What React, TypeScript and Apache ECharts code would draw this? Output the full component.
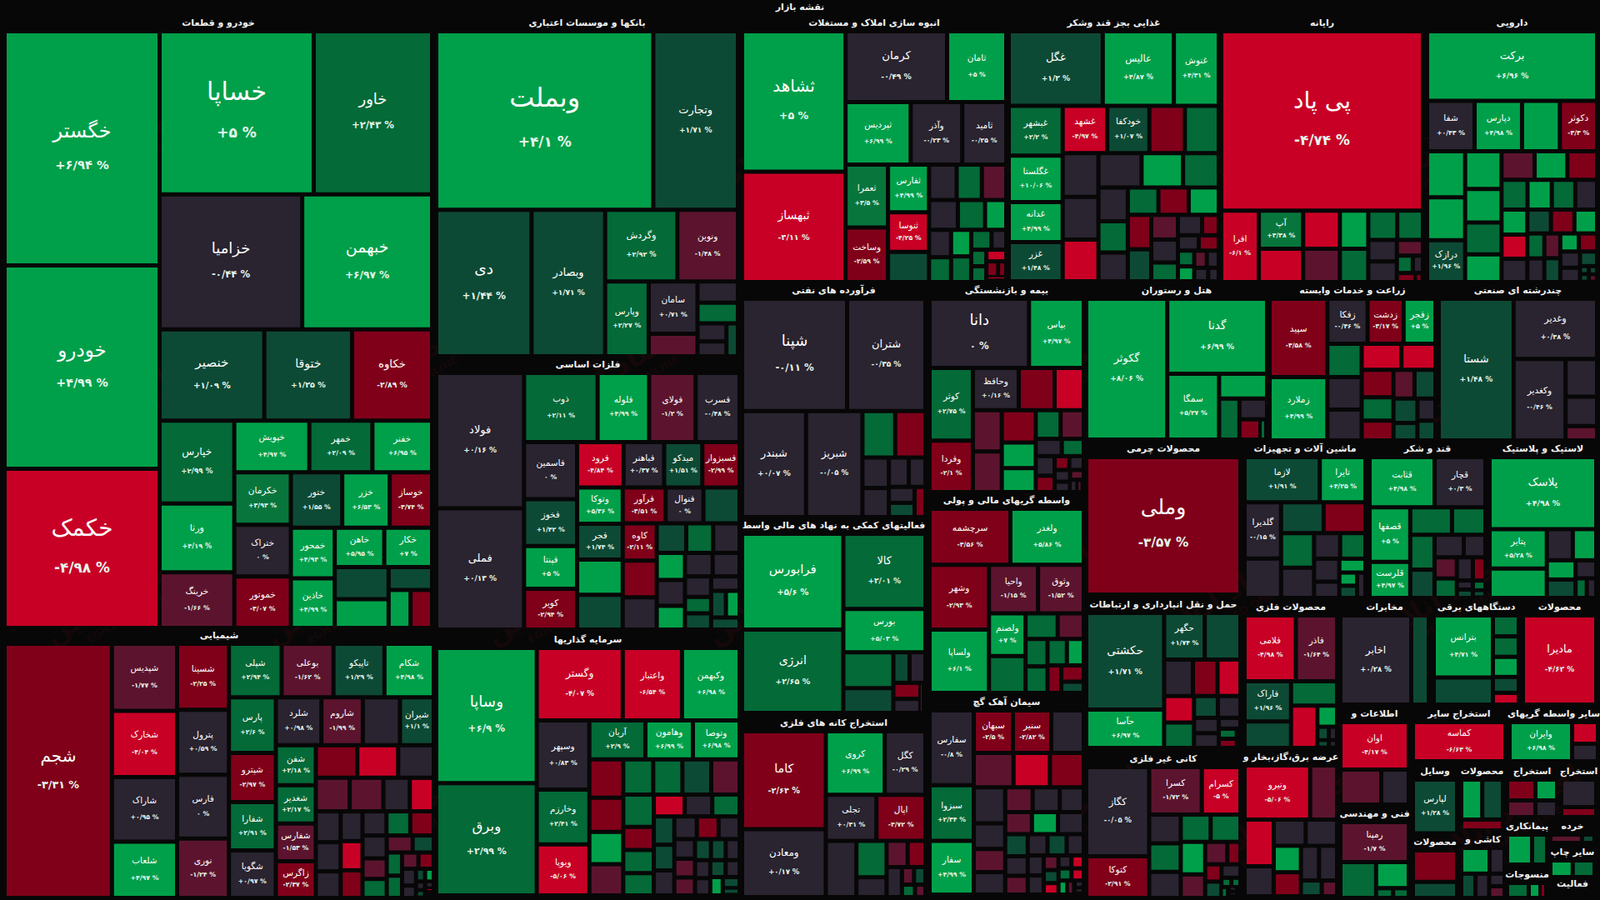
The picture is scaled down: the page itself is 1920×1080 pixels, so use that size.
import React, { useEffect, useRef } from "react";
import * as echarts from "echarts";

type Tile = [string, number, number];

const mapTitle = "نقشه بازار";

const auto: Tile[] = [["خگستر",52266,6.94],["خودرو",45384,4.99],["خکمک",35526,-4.98],["خساپا",35295,5],["خاور",27105,2.43],["خزامیا",27048,-0.44],["خبهمن",24633,6.97],["خنصیر",13407,1.09],["ختوقا",11227,1.25],["خکاوه",10246,-2.89],["خپارس",8700,2.99],["ورنا",7221,4.19],["خرینگ",5829,-1.66],["خپویش",5456,4.97],["خمهر",4588,2.09],["خفنر",4340,6.95],["خکرمان",4160,3.93],["ختراک",4120,0],["خموتور",4080,-3.07],["ختور",4000,1.55],["خزر",3696,6.53],["خوساز",3300,-3.74],["خمحور",3120,4.93],["خاذین",3050,4.99],["خاهن",2726,5.95],["خکار",2632,7],["",2432,1.5],["",2176,4],["",1400,1.5],["",1170,4],["",1150,-3]];
const chem: Tile[] = [["شجم",38430,-3.31],["شپدیس",6160,-1.77],["شخارک",6083,-4.04],["شاراک",5929,0.95],["شلعاب",5159,4.97],["شسینا",4819,-2.25],["پترول",4750,0.59],["فارس",4650,0],["نوری",4331,-1.24],["شپلی",3968,2.94],["بوعلی",3904,-1.62],["تاپیکو",3840,1.29],["شکام",3712,4.98],["پارس",3685,2.6],["شپترو",3245,-2.97],["شفارا",3190,2.91],["شگویا",3135,0.97],["شلرد",3078,0.98],["شاروم",2793,-1.99],["",2508,0],["شیران",2280,1.1],["شفن",2256,2.18],["شغدیر",2162,2.17],["شفارس",2115,-1.53],["زاگرس",2068,-2.37],["",1911,-3],["",1880,-5],["",1638,0],["",1600,-1.5],["",1590,-1.5],["",1248,0],["",1131,-5],["",1080,0],["",1020,0],["",930,0],["",918,0],["",900,-5],["",850,-3],["",816,0],["",810,2.5],["",800,-3],["",780,0],["",702,-1.5],["",648,2.5],["",621,-1.5],["",504,1.5],["",500,2.5],["",480,2.5],["",375,-1.5],["",350,-3],["",330,0],["",242,0],["",165,1.5],["",156,4],["",110,0],["",100,1.5],["",90,0],["",60,-5],["",50,2.5]];
const banks: Tile[] = [["وبملت",55426,4.1],["وتجارت",21614,1.71],["دی",19950,1.44],["وبصادر",15400,1.71],["وگردش",7396,2.92],["ونوین",6192,-1.48],["وپارس",4664,2.27],["سامان",3654,0.71],["",1566,-1.5],["",1225,0],["",1200,2.5],["",748,0],["",612,0],["",540,1.5]];
const metals: Tile[] = [["فولاد",13860,0.16],["فملی",12390,0.13],["ذوب",5916,2.11],["فلوله",4148,4.99],["فولای",3740,-1.2],["فسرب",3536,-0.48],["فاسمین",3528,0],["فخوز",2898,1.42],["فپنتا",2646,5],["کویر",2520,-2.94],["فرود",2464,-4.84],["فباهنر",2156,0.37],["میدکو",2024,1.51],["فسبزوار",1980,-2.99],["وتوکا",1925,5.36],["فجر",1900,1.74],["",1870,4],["",1850,1.5],["فرآور",1785,-3.51],["فنوال",1575,0],["",1505,1.5],["کاوه",1480,-2.11],["",1450,-3],["",1280,0],["",1015,1.5],["",928,2.5],["",910,0],["",890,4],["",850,0],["",782,4],["",759,0],["",736,0],["",625,0],["",500,2.5],["",495,1.5],["",480,0],["",460,1.5],["",425,4],["",400,1.5]];
const invest: Tile[] = [["وساپا",19320,6.9],["وبرق",16020,2.99],["وگستر",8858,-4.07],["واعتبار",6106,-6.54],["وکبهمن",5934,6.98],["وسپهر",5166,0.83],["وخارزم",4095,2.41],["ویوپا",3811,-5.06],["آریان",3102,2.9],["وهامون",2632,6.99],["وتوصا",2585,6.98],["",1845,-3],["",1640,-3],["",1558,4],["",1500,-1.5],["",1494,2.5],["",1452,2.5],["",1440,1.5],["",1411,-1.5],["",1404,2.5],["",1008,-3],["",1000,2.5],["",970,2.5],["",962,-5],["",858,0],["",850,2.5],["",825,1.5],["",750,1.5],["",729,0],["",725,0],["",702,-3],["",675,0],["",576,0],["",552,-1.5],["",528,-1.5],["",476,1.5],["",442,1.5],["",414,0],["",391,0],["",375,0],["",368,1.5],["",336,0],["",325,4],["",264,1.5],["",175,1.5]];
const build: Tile[] = [["ثشاهد",20664,5],["ثبهساز",16236,-4.11],["کرمان",10248,-0.49],["ثامان",5964,5],["ثپردیس",5775,6.99],["وآذر",4575,-0.23],["ثامید",3900,-0.25],["ثعمرا",3800,3.5],["وساخت",3300,-2.59],["ثفارس",2793,4.99],["ثنوسا",2303,-4.25],["",1764,1.5],["",1394,0],["",1271,2.5],["",1230,-1.5],["",1224,0],["",1152,2.5],["",900,4],["",858,0],["",780,2.5],["",759,4],["",736,2.5],["",572,2.5],["",418,0],["",357,2.5],["",340,2.5],["",330,-5],["",264,-3],["",180,-3],["",144,-5]];
const food: Tile[] = [["غگل",9879,1.2],["عالیس",7476,4.87],["غنوش",4717,4.31],["غبشهر",3780,2.2],["غگلستا",3528,10.06],["غدانه",3024,4.99],["غزر",2980,1.48],["غشهد",2970,-4.97],["خودکفا",2805,1.07],["",2365,-3],["",2255,2.5],["",2200,0],["",2150,0],["",2100,-5],["",2080,0],["",2000,4],["",1720,2.5],["",1400,0],["",1295,2.5],["",1190,0],["",1180,2.5],["",1170,-3],["",1160,4],["",1134,-3],["",1053,1.5],["",928,-1.5],["",864,0],["",704,2.5],["",696,0],["",480,-3],["",450,0],["",432,-3],["",361,2.5],["",342,4],["",304,-1.5],["",288,0],["",266,0],["",200,0]];
const computer: Tile[] = [["پی پاد",52030,-4.74],["افرا",3870,-6.1],["آپ",2438,3.38],["",2120,-5],["",2024,-5],["",1760,-1.5],["",1564,4],["",1360,2.5],["",1225,2.5],["",1085,2.5],["",884,0],["",850,0],["",589,-1.5],["",399,2.5],["",252,0],["",242,-3],["",99,-3]];
const pharma: Tile[] = [["برکت",17052,6.96],["شفا",3450,0.43],["دپارس",3440,4.98],["",2745,4],["دکوثر",2700,-3.3],["",2530,4],["",2346,4],["درازک",2300,1.96],["",1980,4],["",1760,4],["",1672,2.5],["",1452,4],["",1365,-1.5],["",1350,4],["",1225,-3],["",1116,2.5],["",1044,4],["",1008,2.5],["",936,0],["",930,4],["",900,-5],["",868,0],["",810,1.5],["",806,-3],["",780,4],["",609,2.5],["",580,0],["",570,-1.5],["",551,1.5],["",483,4],["",475,-3],["",460,0],["",408,0],["",360,1.5],["",104,1.5],["",100,1.5],["",99,1.5],["",90,-1.5]];
const oil: Tile[] = [["شپنا",16884,-0.11],["شتران",12596,-0.35],["شبندر",9728,0.07],["شبریز",8576,-0.05],["",2184,2.5],["",2016,-3],["",1155,0],["",1100,0],["",840,0],["",700,0],["",589,0],["",527,1.5],["",468,-3]];
const insurance: Tile[] = [["دانا",9794,0],["بپاس",5395,4.97],["کوثر",4472,2.75],["وفردا",3172,-2.1],["وحافظ",2750,0.16],["",2150,-3],["",1750,-5],["",1700,-1.5],["",1666,-1.5],["",1560,-3],["",1240,4],["",1160,4],["",1015,2.5],["",945,-1.5],["",640,0],["",540,2.5],["",528,0],["",440,-3],["",288,-3],["",285,0],["",256,0],["",228,0],["",192,-1.5],["",135,0],["",105,-1.5]];
const brokers: Tile[] = [["سرچشمه",6499,-3.56],["ولغدر",5896,5.86],["وشهر",5538,-2.93],["ولساپا",5396,6.1],["واحیا",3422,-1.15],["وثوق",3190,-1.52],["ولصنم",2244,7],["",1936,2.5],["",1184,2.5],["",960,-1.5],["",864,2.5],["",837,2.5],["",736,2.5],["",640,4],["",546,-3],["",525,-3],["",364,1.5]];
const cement: Tile[] = [["سفارس",4717,-0.8],["سبزوا",3498,2.34],["سفار",3392,4.99],["سبهان",2350,-2.5],["سنیر",2300,-2.82],["",1950,0],["",1927,-1.5],["",1763,-5],["",1640,-3],["",1596,0],["",1140,0],["",1026,-1.5],["",1000,0],["",960,-1.5],["",950,0],["",840,0],["",830,-1.5],["",810,4],["",800,0],["",702,1.5],["",621,0],["",598,-1.5],["",594,0],["",572,1.5],["",513,0],["",450,0],["",432,0],["",306,-1.5],["",272,1.5],["",240,-5],["",238,0],["",225,-5],["",224,2.5],["",210,-5],["",176,4],["",144,-1.5],["",100,0],["",80,0]];
const finance: Tile[] = [["فرابورس",14030,5.6],["انرژی",12200,2.65],["کالا",8918,2.01],["بورس",5148,5.03],["",2592,2.5],["",1798,1.5],["",720,1.5],["",700,0],["",630,-3],["",552,0],["",216,-1.5]];
const mining: Tile[] = [["کاما",11800,-2.64],["ومعادن",8200,0.17],["کروی",5396,6.99],["کگل",3724,-0.29],["تجلی",3355,0.31],["اپال",3245,-3.72],["",2484,0],["",1584,2.5],["",864,0],["",800,-1.5],["",672,-3],["",665,0],["",306,-1.5],["",288,1.5],["",234,2.5],["",187,-1.5]];
const hotel: Tile[] = [["گکوثر",16296,8.06],["گدنا",10680,6.99],["سمگا",4880,5.27],["",1710,4],["",1189,2.5],["",820,0],["",608,-3],["",192,2.5]];
const farming: Tile[] = [["سپید",6486,-3.58],["زملارد",5244,4.99],["زفکا",2592,-0.46],["زدشت",2322,-3.17],["زفجر",2052,5],["",1640,2.5],["",1599,0],["",1517,0],["",1488,-5],["",1271,-5],["",1250,-3],["",1064,2.5],["",899,-3],["",868,-1.5],["",860,1.5],["",840,1.5],["",600,1.5],["",570,0],["",510,1.5]];
const multi: Tile[] = [["شستا",15210,1.48],["وغدیر",7200,0.38],["وکغدیر",6076,-0.46],["",1710,0],["",1330,0],["",646,-1.5]];
const leather: Tile[] = [["وملی",1000,-3.57]];
const machinery: Tile[] = [["لازما",4895,1.91],["تایرا",2970,4.25],["گلدیرا",2948,-0.15],["",2068,0],["",1887,1.5],["",1850,-3],["",1640,2.5],["",1440,0],["",961,0],["",930,2.5],["",837,0],["",589,0],["",520,4],["",336,4],["",312,1.5],["",304,0]];
const sugar: Tile[] = [["قثابت",4680,4.98],["قچار",3660,0.3],["قصفها",3185,5],["قلرست",2107,4.97],["",1650,2.5],["",1320,2.5],["",1218,2.5],["",986,1.5],["",945,0],["",702,0],["",676,-1.5],["",624,2.5],["",532,0],["",420,-3],["",209,0],["",190,1.5],["",180,2.5],["",135,1.5]];
const rubber: Tile[] = [["پلاسک",10875,4.98],["پتایر",3196,5.28],["",2380,4],["",1147,0],["",1036,4],["",782,4],["",748,1.5],["",528,0],["",312,2.5],["",264,0]];
const transport: Tile[] = [["حکشتی",10904,1.71],["حآسا",4324,6.97],["حگهر",2744,1.74],["",2408,1.5],["",1519,0],["",1302,-3],["",1209,-5],["",1147,-5],["",1100,2.5],["",754,1.5],["",713,0],["",551,0],["",528,0],["",340,0],["",264,2.5],["",240,-3],["",100,-3]];
const metalGoods: Tile[] = [["فلامی",4836,-4.98],["فاذر",3900,-1.64],["فاراک",2695,1.96],["",1760,1.5],["",1620,2.5],["",1600,-5],["",598,4],["",224,1.5],["",160,0],["",126,1.5],["",90,0]];
const telecom: Tile[] = [["اخابر",9095,0.38],["",2247,1.5]];
const electric: Tile[] = [["بترانس",5183,4.71],["",2272,1.5],["",775,2.5],["",760,2.5],["",744,4],["",589,1.5],["",434,-5]];
const paper: Tile[] = [["مادیرا",1000,-4.62]];
const info: Tile[] = [["اوان",4674,-4.17],["",2058,-1.5],["",1386,0]];
const otherMining: Tile[] = [["کماسه",1000,-6.63]];
const otherBrokers: Tile[] = [["وایران",3525,6.98],["",806,-5],["",651,0]];
const power: Tile[] = [["ونیرو",4992,-5.06],["",2048,-1.5],["",1904,-5],["",1224,0],["",1170,0],["",1150,0],["",1012,4],["",918,-3],["",884,0],["",880,0],["",460,1.5],["",340,-1.5]];
const nonMetal: Tile[] = [["کگاز",7918,-0.05],["کتوکا",3700,-2.91],["کسرا",3520,-1.72],["کسرام",2585,-5],["",1280,0],["",1270,2.5],["",1160,0],["",1152,2.5],["",1148,2.5],["",1120,4],["",812,-1.5],["",702,-1.5],["",416,-3],["",396,-3],["",375,1.5],["",360,0],["",130,2.5],["",120,2.5],["",110,2.5],["",70,0],["",60,0],["",50,2.5]];
const engineering: Tile[] = [["رمپنا",3948,-1.7],["",1848,2.5],["",1232,4],["",240,2.5],["",220,2.5]];
const vehicles: Tile[] = [["لپارس",3021,1.28],["",90,2.5],["",30,-3]];
const goods: Tile[] = [["",1200,4],["",1180,1.5],["",650,-3]];
const extractA: Tile[] = [["",850,-3],["",680,-1.5],["",650,4],["",520,0]];
const extractB: Tile[] = [["",1386,0],["",504,-3]];
const goodsB: Tile[] = [["",1961,-3],["",1007,1.5]];
const tiles: Tile[] = [["",1020,4],["",540,0],["",480,1.5],["",470,0],["",270,0],["",252,-1.5]];
const contractors: Tile[] = [["",1080,4],["",648,2.5]];
const retail: Tile[] = [["",600,-1.5],["",240,1.5]];
const textiles: Tile[] = [["",468,2.5],["",252,4],["",144,-3]];
const printing: Tile[] = [["",500,4],["",490,2.5]];

const sectors: [string, Tile[]][] = [
  ["خودرو و قطعات", auto], ["شیمیایی", chem], ["بانکها و موسسات اعتباری", banks], ["فلزات اساسی", metals],
  ["سرمایه گذاریها", invest], ["انبوه سازی املاک و مستغلات", build], ["غذایی بجز قند وشکر", food], ["رایانه", computer],
  ["دارویی", pharma], ["فرآورده های نفتی", oil], ["بیمه و بازنشستگی", insurance], ["واسطه گریهای مالی و پولی", brokers],
  ["سیمان آهک گچ", cement], ["فعالیتهای کمکی به نهاد های مالی واسط", finance], ["استخراج کانه های فلزی", mining], ["هتل و رستوران", hotel],
  ["زراعت و خدمات وابسته", farming], ["چندرشته ای صنعتی", multi], ["محصولات چرمی", leather], ["ماشین آلات و تجهیزات", machinery],
  ["قند و شکر", sugar], ["لاستیک و پلاستیک", rubber], ["حمل و نقل انبارداری و ارتباطات", transport], ["محصولات فلزی", metalGoods],
  ["مخابرات", telecom], ["دستگاههای برقی", electric], ["محصولات", paper], ["اطلاعات و", info],
  ["استخراج سایر", otherMining], ["سایر واسطه گریهای", otherBrokers], ["عرضه برق،گاز،بخار و", power], ["کانی غیر فلزی", nonMetal],
  ["فنی و مهندسی", engineering], ["وسایل", vehicles], ["محصولات", goods], ["استخراج", extractA],
  ["استخراج", extractB], ["محصولات", goodsB], ["کاشی و", tiles], ["پیمانکاری", contractors],
  ["خرده", retail], ["منسوجات", textiles], ["سایر چاپ", printing],
];

// Layout of the sector panels on the page [left, top, right, bottom], same order as `sectors`.
const panels: number[][] = [
  [8,40,516,751],[8,775,518,1075],[526,40,883,425],[526,450,885,753],
  [526,780,885,1072],[893,40,1205,336],[1213,40,1460,335],[1468,40,1705,336],
  [1715,40,1914,336],[893,361,1108,618],[1118,361,1298,588],[1118,613,1298,829],
  [1118,855,1298,1071],[893,643,1108,853],[893,880,1108,1074],[1306,361,1518,525],
  [1526,361,1720,526],[1729,361,1914,526],[1306,551,1486,711],[1496,551,1636,715],
  [1646,551,1780,715],[1790,551,1913,715],[1306,738,1486,895],[1496,741,1602,895],
  [1611,741,1712,843],[1723,741,1820,843],[1830,741,1913,843],[1611,869,1688,963],
  [1698,869,1804,911],[1814,869,1915,911],[1496,921,1602,1073],[1306,923,1486,1075],
  [1611,989,1688,1075],[1698,938,1746,1000],[1756,938,1801,994],[1811,938,1866,978],
  [1876,938,1913,978],[1698,1023,1746,1075],[1756,1020,1803,1075],[1811,1004,1854,1035],
  [1863,1004,1911,1009],[1811,1062,1854,1075],[1863,1035,1911,1050],
];
// Sectors that open with a full-height column: [panel index, tiles in the column, column width].
const columnSplits: number[][] = [[0, 3, 181], [12, 3, 48], [24, 1, 80], [25, 2, 66]];
const lastHeader = "فعالیت";
// Label sizes of the tiles whose source label does not follow their area.
const labelSizes: Record<string, number> = { "خگستر": 24, "خودرو": 23, "خکمک": 28, "خساپا": 30, "وبملت": 32, "پی پاد": 28, "شجم": 20, "وملی": 25, "خاور": 18, "خبهمن": 19, "خزامیا": 18, "ثشاهد": 20, "وتجارت": 13, "وبصادر": 13, "برکت": 13, "شستا": 13, "گکوثر": 13, "فولاد": 13, "فملی": 13, "شپنا": 18, "ثبهساز": 14, "فرابورس": 15, "انرژی": 14, "کالا": 13, "دانا": 18, "شتران": 13, "اخابر": 12 };
const watermarkFa = "اقتصاد آنلاین";
const watermarkEn = "EGHTESAD ONLINE";

const PERSIAN = "۰۱۲۳۴۵۶۷۸۹";
function changeText(c: number): string {
  const sign = c > 0 ? "+" : c < 0 ? "-" : "";
  const digits = String(Math.abs(c)).replace(/\d/g, (d) => PERSIAN[+d]).replace(".", "/");
  return `${sign}${digits} %`;
}
function changeColor(c: number): string {
  if (c >= 4) return "#00a04a";
  if (c >= 3) return "#08763c";
  if (c >= 2) return "#036a38";
  if (c >= 1) return "#0d4a35";
  if (c > -1) return "#2a2330";
  if (c > -2) return "#5c142e";
  if (c > -4) return "#80001a";
  return "#c90026";
}
const BG = "#070707";
const FONT = "'DejaVu Sans', sans-serif";
const clamp = (v: number, a: number, b: number) => Math.min(b, Math.max(a, v));

function oneSeries(title: string, list: Tile[], l: number, t: number, r: number, b: number) {
  const scale = list.length === 1 && list[0][1] === 1000 ? (r - l + 5) * (b - t + 5) / list[0][1] : 1;
  const style = { gapWidth: 5, borderWidth: 0, borderColor: BG, color: BG };
  const midpoints = new Map<string, number>();
  const data = list.map(([name, value, change]) => {
    const area = value * scale;
    const n = labelSizes[name] ?? clamp(Math.sqrt(area) / 7.6, 10.5, 24);
    const p = clamp(n * 0.52 + 2.3, 7.5, 17);
    const lp = p * 1.4;
    const gapCap = area < 2600 ? 15 : area < 5000 ? 18 : Infinity;
    const g = Math.min(1.5 * n + 5, gapCap);
    const ln = 2 * g - lp;
    const text = `{n|${name}}\n{p|${changeText(change)}}`;
    if (name) midpoints.set(text, 1.5 * g - lp / 2);
    return {
      name, value,
      itemStyle: { color: changeColor(change), borderWidth: 0, borderColor: BG },
      label: name
        ? {
            show: true, position: "inside", align: "center", verticalAlign: "middle", padding: 0, overflow: "none",
            formatter: text,
            rich: {
              n: { fontSize: n, lineHeight: ln, color: "#fff", fontFamily: FONT },
              p: { fontSize: p, lineHeight: lp, color: "#e6f6ec", fontFamily: FONT, fontWeight: "bold" },
            },
          }
        : { show: false },
    };
  });
  return {
    type: "treemap",
    name: title,
    left: l, top: t, width: r - l, height: b - t,
    roam: false, nodeClick: false, silent: true,
    breadcrumb: { show: false },
    visibleMin: 0,
    sort: "desc",
    squareRatio: 1,
    itemStyle: { gapWidth: 5, borderWidth: 0, borderColor: BG },
    levels: [{ itemStyle: style }],
    label: { show: true, position: "inside", padding: 0, overflow: "none", color: "#fff", fontFamily: FONT },
    labelLayout: (params: any) => {
      const m = midpoints.get(params.text);
      return m == null ? {} : { dy: params.rect.height / 2 - m - 1 };
    },
    data,
  };
}

function buildSeries() {
  const out: any[] = [];
  sectors.forEach(([title, list], i) => {
    const [l, t, r, b] = panels[i];
    const split = columnSplits.find((s) => s[0] === i);
    if (split) {
      out.push(oneSeries(title, list.slice(0, split[1]), l, t, l + split[2], b));
      out.push(oneSeries(title, list.slice(split[1]), l + split[2] + 5, t, r, b));
    } else {
      out.push(oneSeries(title, list, l, t, r, b));
    }
  });
  return out;
}

function buildGraphics() {
  const font = `bold 11px ${FONT}`;
  const els: any[] = sectors.map(([title], i) => {
    const [l, t, r] = panels[i];
    return {
      type: "text", x: (l + r) / 2, y: t - 13, z: 50, silent: true,
      style: { text: title, fill: "#f2f2f2", font, align: "center", verticalAlign: "middle",
        width: r - l + 14, overflow: "truncate", ellipsis: "" },
    };
  });
  els.push({ type: "text", x: 1887, y: 1060, z: 50, silent: true,
    style: { text: lastHeader, fill: "#f2f2f2", font, align: "center", verticalAlign: "middle" } });
  els.push({ type: "text", x: 960, y: 8, z: 50, silent: true,
    style: { text: mapTitle, fill: "#f2f2f2", font, align: "center", verticalAlign: "middle" } });
  for (let col = 0; col < 7; col++) {
    for (let row = 0; row < 4; row++) {
      const x = 150 + col * 265 + (row % 2) * 60;
      const y = 170 + row * 270;
      els.push({ type: "group", x, y, rotation: Math.PI / 6, z: 60, silent: true, children: [
        { type: "text", style: { text: watermarkFa, x: 0, y: 0, fill: "rgba(230,30,40,0.07)", font: `bold 34px ${FONT}`, align: "center", verticalAlign: "middle" } },
        { type: "text", style: { text: watermarkEn, x: 0, y: 28, fill: "rgba(230,30,40,0.07)", font: `bold 13px ${FONT}`, align: "center", verticalAlign: "middle" } },
      ] });
    }
  }
  return els;
}

export default function App() {
  const ref = useRef<HTMLDivElement>(null);
  useEffect(() => {
    document.body.style.margin = "0";
    document.body.style.background = BG;
    const chart = echarts.init(ref.current!, undefined, { renderer: "svg" });
    chart.setOption({
      animation: false,
      backgroundColor: BG,
      tooltip: { show: false },
      series: buildSeries(),
      graphic: { elements: buildGraphics() },
    });
    return () => chart.dispose();
  }, []);
  return <div ref={ref} style={{ width: 1920, height: 1080 }} />;
}
